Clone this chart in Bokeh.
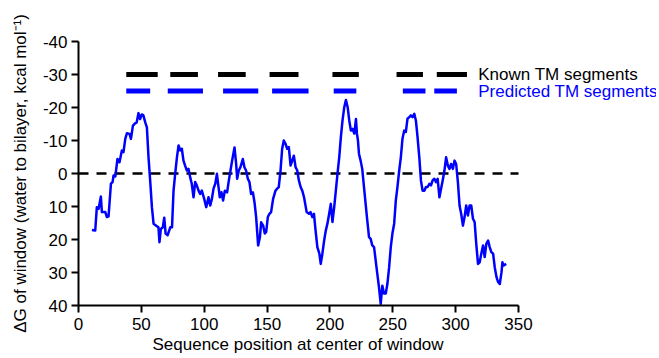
from bokeh.plotting import figure
from bokeh.models import Range1d, FixedTicker, Label, Title, ColumnDataSource
from bokeh.embed import file_html
from bokeh.resources import INLINE

# Hydropathy profile (sequence position at window centre, dG in kcal/mol)
position = [10.7, 13.3, 14.6, 16.0, 17.8, 18.6, 21.3, 22.6, 23.9, 25.8, 27.1, 27.9, 29.3, 31.0, 32.6,
            34.5, 35.8, 37.2, 38.5, 40.6, 41.7, 43.3, 45.0, 46.3, 47.7, 49.0, 50.3, 51.6, 53.1, 54.4,
            55.7, 57.0, 58.4, 59.7, 61.8, 63.6, 64.4, 65.5, 67.1, 68.2, 69.3, 70.9, 73.0, 74.4, 75.6,
            76.9, 78.3, 79.6, 80.9, 82.2, 83.5, 84.8, 86.2, 87.5, 88.8, 90.1, 91.5, 92.8, 94.1, 95.5,
            96.8, 98.1, 100.0, 101.6, 103.4, 104.8, 106.1, 107.4, 108.8, 110.1, 110.9, 112.4, 113.7, 115.0, 116.4,
            118.2, 119.6, 120.9, 122.2, 124.1, 125.4, 126.2, 127.5, 128.8, 130.7, 132.0, 133.3, 134.7, 136.0, 137.3,
            138.7, 140.0, 141.3, 142.9, 144.3, 145.3, 146.9, 148.2, 149.3, 150.6, 151.9, 153.2, 154.8, 156.7, 158.0,
            159.3, 160.7, 162.0, 163.3, 164.7, 166.0, 167.3, 168.7, 170.0, 171.3, 172.7, 174.0, 175.3, 176.7, 178.0,
            179.4, 181.5, 183.3, 184.6, 186.0, 187.3, 188.6, 190.0, 191.6, 192.7, 194.0, 195.4, 196.7, 198.0, 199.4,
            200.7, 202.0, 203.4, 204.7, 206.0, 207.4, 208.7, 210.0, 211.4, 212.7, 214.1, 215.4, 216.7, 218.0, 219.4,
            220.7, 221.5, 222.3, 223.1, 224.4, 225.7, 227.1, 228.4, 229.7, 231.1, 232.4, 233.7, 235.1, 236.4, 237.7,
            239.0, 240.4, 241.7, 243.0, 244.4, 245.7, 247.1, 248.4, 249.7, 251.1, 252.4, 253.7, 255.1, 256.4, 257.7,
            259.1, 260.4, 261.7, 263.1, 264.4, 265.7, 267.1, 268.4, 269.7, 271.1, 272.4, 273.7, 275.1, 276.4, 277.7,
            279.1, 280.4, 281.7, 283.1, 284.4, 285.7, 287.1, 288.4, 289.7, 291.1, 292.4, 293.8, 295.1, 296.4, 297.8,
            299.1, 300.4, 301.8, 303.1, 304.4, 305.8, 307.1, 308.4, 309.8, 311.1, 312.4, 313.8, 315.1, 316.4, 317.8,
            319.1, 320.4, 321.8, 323.1, 324.4, 325.8, 327.1, 328.4, 329.8, 331.1, 332.5, 333.8, 335.1, 336.5, 337.2,
            338.2, 340.2]
delta_g = [17.1, 17.3, 10.2, 10.7, 7.0, 11.7, 11.7, 13.2, 13.0, 3.1, 2.6, 0.6, 0.9, -4.4, -3.4,
           -7.0, -6.5, -10.5, -12.2, -12.0, -10.5, -14.5, -15.2, -15.5, -18.3, -16.5, -17.9, -17.6, -15.5, -14.0,
           -4.9, 2.1, 10.2, 15.2, 15.8, 16.3, 20.8, 16.8, 16.3, 13.4, 18.2, 18.7, 16.3, 16.3, 5.2,
           0.1, -4.9, -8.5, -7.0, -7.5, -3.9, -2.4, -0.9, -1.4, 1.1, 3.1, 7.2, 2.6, 3.6, 5.2,
           6.2, 5.2, 7.7, 10.2, 7.2, 9.7, 7.7, 4.6, 3.1, 0.1, 2.6, 7.2, 5.7, 8.2, 5.2,
           5.7, 2.1, -0.9, -3.9, -7.9, -2.9, 1.6, -0.9, -1.9, -4.4, -1.9, -0.9, 1.6, 2.6, 6.2,
           5.7, 8.7, 13.2, 21.8, 19.3, 14.8, 15.8, 18.2, 17.7, 13.2, 12.2, 11.7, 7.7, 5.2, 4.6,
           4.1, -0.9, -7.5, -10.0, -9.0, -7.5, -8.0, -2.4, -3.9, -5.4, -1.9, -0.9, 2.1, 4.1, 5.2,
           7.2, 11.7, 12.2, 11.7, 13.2, 12.2, 17.3, 22.3, 24.3, 27.4, 24.3, 20.3, 17.3, 15.2, 12.2,
           9.2, 14.7, 10.2, 5.2, 0.1, -4.9, -11.0, -16.0, -20.1, -22.3, -20.1, -16.0, -13.0, -13.5, -12.1,
           -16.5, -12.0, -10.0, -6.0, -3.9, -1.4, 4.1, 9.2, 14.2, 19.3, 19.8, 21.8, 22.3, 26.4, 30.4,
           34.4, 39.5, 34.0, 36.4, 36.4, 33.5, 28.4, 22.3, 18.2, 15.2, 8.2, 4.1, -0.9, -4.9, -10.5,
           -13.0, -12.6, -16.6, -17.1, -17.6, -17.1, -18.1, -16.0, -11.0, -4.9, 2.1, 5.2, 5.2, 4.1, 4.1,
           3.1, 3.6, 2.1, 1.6, 2.6, 1.6, 7.2, 4.6, 2.1, -0.9, -4.9, -2.4, -1.4, -2.9, -1.4,
           -3.9, -2.9, 2.6, 9.7, 12.2, 15.8, 13.2, 9.7, 12.7, 9.7, 9.7, 13.7, 14.7, 21.3, 27.4,
           26.9, 24.3, 21.8, 25.3, 21.3, 20.3, 22.3, 23.8, 24.3, 28.4, 31.4, 32.9, 33.5, 29.9, 26.9,
           27.9, 27.4]

# TM segments (start, end residue)
known_start = [38, 73, 111, 152, 202, 253, 285]
known_end = [63, 95, 133, 175, 223, 274, 309]
known_level = -30
pred_start = [38, 71, 115, 154, 203, 258, 283]
pred_end = [57, 99, 143, 183, 221, 276, 301]
pred_level = -25

series_names = ["Known TM segments", "Predicted TM segments"]
x_ticks = [0, 50, 100, 150, 200, 250, 300, 350]
y_ticks = [-40, -30, -20, -10, 0, 10, 20, 30, 40]
y_tick_labels = ["-40", "-30", "-20", "-10", "0", "10", "20", "30", "40"]
x_title = "Sequence position at center of window"
y_title = "\u0394G of window (water to bilayer, kcal mol\u207b\u00b9)"

FONT = "Liberation Sans"
BLUE = "#0000FF"

W, H = 656, 356
FL, FT, FW, FH = 78, 41, 440, 264
x_min_axis, x_max_axis = 0, 350
x_view_end = x_max_axis * (W - FL) / FW

p = figure(width=W, height=H,
           x_range=Range1d(x_min_axis, x_view_end), y_range=Range1d(40, -40),
           output_backend="svg", toolbar_location=None,
           min_border_left=FL, min_border_right=0,
           min_border_top=FT, min_border_bottom=H - FT - FH)
p.outline_line_color = None
p.xgrid.visible = False
p.ygrid.visible = False
p.background_fill_color = "white"

p.xaxis.ticker = FixedTicker(ticks=x_ticks)
p.yaxis.ticker = FixedTicker(ticks=y_ticks)
p.xaxis.bounds = (x_min_axis, x_max_axis)
p.yaxis.major_label_overrides = {t: s for t, s in zip(y_ticks, y_tick_labels)}
for ax in (p.xaxis, p.yaxis):
    ax.axis_line_width = 2
    ax.axis_line_color = "black"
    ax.major_tick_line_width = 2
    ax.major_tick_line_color = "black"
    ax.major_tick_out = 7
    ax.major_tick_in = 0
    ax.minor_tick_line_color = None
    ax.major_label_text_font = FONT
    ax.major_label_text_font_size = "17px"
    ax.major_label_text_color = "black"
    ax.axis_label_text_font = FONT
    ax.axis_label_text_font_size = "17px"
    ax.axis_label_text_font_style = "normal"
    ax.axis_label_text_color = "black"

p.yaxis.axis_label = y_title
p.xaxis.major_label_standoff = 5
p.yaxis.major_label_standoff = 4
p.yaxis.axis_label_standoff = 10

# x-axis title centred under the 0-350 axis (frame extends further for the legend text)
p.add_layout(Title(text=x_title, align="left", offset=74, standoff=0,
                   text_font=FONT, text_font_size="17px", text_font_style="normal",
                   text_color="black"), "below")

# dashed zero reference line over the axis extent
p.segment(x0=[x_min_axis], y0=[0], x1=[x_max_axis], y1=[0],
          line_color="black", line_width=2.5, line_dash="10 8")

p.line(position, delta_g, line_color=BLUE, line_width=2.5, line_join="round")

ks = ColumnDataSource(dict(x0=known_start, x1=known_end,
                           y=[known_level] * len(known_start)))
ps = ColumnDataSource(dict(x0=pred_start, x1=pred_end,
                           y=[pred_level] * len(pred_start)))
p.segment(x0="x0", y0="y", x1="x1", y1="y", source=ks,
          line_color="black", line_width=5, line_cap="butt")
p.segment(x0="x0", y0="y", x1="x1", y1="y", source=ps,
          line_color=BLUE, line_width=5, line_cap="butt")

label_x = 318
for name, lvl, col in zip(series_names, [known_level, pred_level], ["black", BLUE]):
    p.add_layout(Label(x=label_x, y=lvl, text=name, text_baseline="middle",
                       text_align="left", text_font=FONT, text_font_size="17px",
                       text_color=col))

open("out.html", "w").write(file_html(p, INLINE))
